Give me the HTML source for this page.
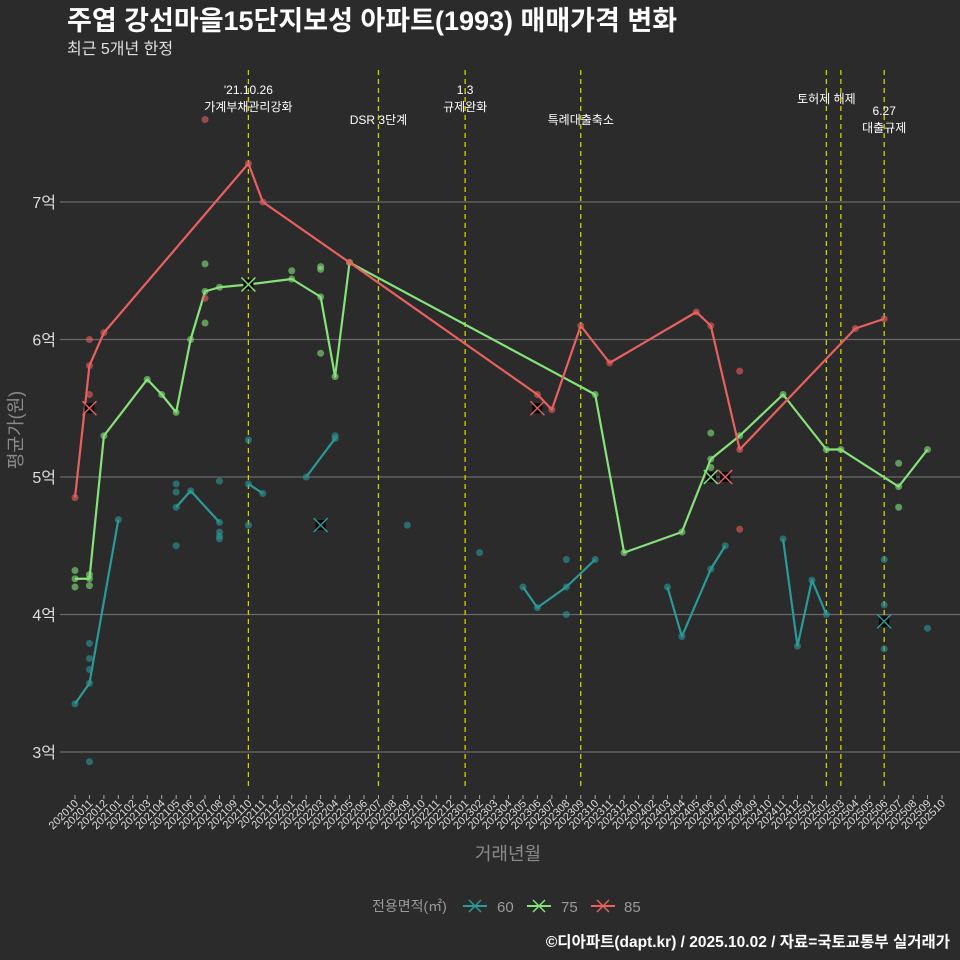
<!DOCTYPE html>
<html><head><meta charset="utf-8"><style>
body{margin:0;background:#2b2b2b;}
svg{display:block;font-family:"Liberation Sans","Noto Sans CJK KR",sans-serif;}
</style></head><body>
<svg id="chart" width="960" height="960" viewBox="0 0 960 960">
<rect width="960" height="960" fill="#2b2b2b"/>
<text x="67" y="30" fill="#ffffff" font-size="27" font-weight="bold">주엽 강선마을15단지보성 아파트(1993) 매매가격 변화</text>
<text x="67" y="54" fill="#e0e0e0" font-size="16">최근 5개년 한정</text>
<g id="grid"></g>
<g id="vlines"></g>
<g id="series"></g>
<g id="xaxis"></g>
<text transform="translate(22,430) rotate(-90)" text-anchor="middle" fill="#8a8a8a" font-size="18">평균가(원)</text>
<text x="508" y="860" text-anchor="middle" fill="#8a8a8a" font-size="18">거래년월</text>
<g font-size="14">
<text x="372" y="911" fill="#9a9a9a">전용면적(㎡)</text>
<g><line x1="463" y1="906" x2="487" y2="906" stroke="#2a9a98" stroke-width="2"/><path d="M469 900L481 912M481 900L469 912" stroke="#2a9a98" stroke-width="1.5"/><text x="497" y="912" fill="#9a9a9a" font-size="15">60</text></g>
<g><line x1="527" y1="906" x2="551" y2="906" stroke="#86e27a" stroke-width="2"/><path d="M533 900L545 912M545 900L533 912" stroke="#86e27a" stroke-width="1.5"/><text x="561" y="912" fill="#9a9a9a" font-size="15">75</text></g>
<g><line x1="591" y1="906" x2="615" y2="906" stroke="#e8605f" stroke-width="2"/><path d="M597 900L609 912M609 900L597 912" stroke="#e8605f" stroke-width="1.5"/><text x="624" y="912" fill="#9a9a9a" font-size="15">85</text></g>
</g>
<text x="950" y="947" text-anchor="end" fill="#ffffff" font-size="15.5" font-weight="bold">©디아파트(dapt.kr) / 2025.10.02 / 자료=국토교통부 실거래가</text>
</svg>
<script>
const NS="http://www.w3.org/2000/svg";
const yTicks=[3,4,5,6,7];
const yTickLabels=["3억","4억","5억","6억","7억"];
const eventIdx=[12,21,27,35,52,53,56];
const eventLabels=[["'21.10.26","가계부채관리강화"],["DSR 3단계"],["1.3","규제완화"],["특례대출축소"],["토허제 해제"],[],["6.27","대출규제"]];
const eventLabelY=[94,124,94,124,103,0,115];
const line60=[[0,3.35],[1,3.50],[3,4.69],null,[7,4.78],[8,4.90],[10,4.67],null,[12,4.95],[13,4.88],null,[16,5.0],[18,5.28],null,[31,4.20],[32,4.05],[34,4.20],[36,4.40],null,[41,4.20],[42,3.84],[44,4.33],[45,4.50],null,[49,4.55],[50,3.77],[51,4.25],[52,4.0]];
const line75=[[0,4.26],[1,4.26],[2,5.30],[5,5.71],[6,5.60],[7,5.47],[8,6.0],[9,6.35],[10,6.38],[12,6.40],[15,6.44],[17,6.31],[18,5.73],[19,6.56],[36,5.60],[38,4.45],[42,4.60],[44,5.13],[46,5.30],[49,5.60],[52,5.20],[53,5.20],[57,4.93],[59,5.20]];
const line85=[[0,4.85],[1,5.81],[2,6.05],[12,7.28],[13,7.0],[19,6.56],[32,5.60],[33,5.49],[35,6.10],[37,5.83],[43,6.20],[44,6.10],[46,5.20],[54,6.08],[56,6.15]];
const pts60=[[1,3.79],[1,3.68],[1,3.60],[1,2.93],[7,4.95],[7,4.89],[7,4.50],[10,4.60],[10,4.57],[10,4.55],[10,4.97],[12,5.27],[12,4.65],[18,5.30],[23,4.65],[28,4.45],[34,4.40],[34,4.0],[56,4.40],[56,4.07],[56,3.75],[59,3.90]];
const pts75=[[0,4.32],[0,4.20],[1,4.29],[1,4.21],[9,6.55],[9,6.12],[15,6.50],[17,6.53],[17,6.51],[17,5.90],[44,5.32],[44,5.07],[57,5.10],[57,4.78]];
const pts85=[[9,7.6],[9,6.30],[1,6.0],[1,5.6],[46,5.77],[46,4.62]];
const x60=[[17,4.65],[56,3.95]];
const x75=[[12,6.40],[44,5.0]];
const x85=[[1,5.5],[32,5.5],[45,5.0]];
const months=[];for(let y=2020,m=10;months.length<61;){months.push(y+String(m).padStart(2,'0'));m++;if(m>12){m=1;y++;}}
const X=i=>75+14.45*i;
const Y=v=>202+(7-v)*137.5;
function el(t,a,p){const e=document.createElementNS(NS,t);for(const k in a)e.setAttribute(k,a[k]);p.appendChild(e);return e;}
const grid=document.getElementById('grid');
yTicks.forEach((v,i)=>{
 const l=el('line',{x1:60,x2:960,y1:Y(v),y2:Y(v),stroke:'#6a6a6a','stroke-width':1.2},grid);
 
 
 const t=el('text',{x:56,y:Y(v)+6,'text-anchor':'end',fill:'#dddddd','font-size':16},grid);
 t.textContent=yTickLabels[i];
 
 
});
const vl=document.getElementById('vlines');
eventIdx.forEach((i,k)=>{
 const l=el('line',{x1:X(i),x2:X(i),y1:70,y2:790,stroke:'#c8d400','stroke-width':1.3,'stroke-dasharray':'5 4'},vl);
 
 
 eventLabels[k].forEach((s,j)=>{
  const t=el('text',{x:X(i),y:eventLabelY[k]+j*17,'text-anchor':'middle',fill:'#ffffff','font-size':12},vl);
  t.textContent=s;
  
  
 });
});
const xa=document.getElementById('xaxis');
months.forEach((m,i)=>{
 el('line',{x1:X(i),x2:X(i),y1:795,y2:799,stroke:'#aaaaaa'},xa);
 const t=el('text',{transform:`translate(${X(i)+4},804) rotate(-45)`,'text-anchor':'end',fill:'#dddddd','font-size':11},xa);
 t.textContent=m;
 
 
});
const sg=document.getElementById('series');
function series(name,col,line,pts,xs){
 const g=el('g',{},sg);
 
 
 pts.forEach(p=>{const c=el('circle',{cx:X(p[0]),cy:Y(p[1]),r:3.5,fill:col,opacity:0.6},g);
  
  });
 let d='',start=true;
 line.forEach(p=>{if(!p){start=true;return;}d+=(start?'M':'L')+X(p[0])+' '+Y(p[1]);start=false;});
 const pa=el('path',{d:d,fill:'none',stroke:col,'stroke-width':2.2,'stroke-linejoin':'round'},g);
 
 
 line.forEach(p=>{if(!p)return;const c=el('circle',{cx:X(p[0]),cy:Y(p[1]),r:3.5,fill:col,opacity:0.6},g);
  
  });
 xs.forEach(p=>{const x=X(p[0]),y=Y(p[1]);
  const r=el('rect',{x:x-5,y:y-5,width:10,height:10,fill:'#000'},g);
  
  
  const m=el('path',{d:`M${x-7} ${y-7}L${x+7} ${y+7}M${x+7} ${y-7}L${x-7} ${y+7}`,stroke:col,'stroke-width':1.5},g);
  
  });
}
series('60','#2a9a98',line60,pts60,x60);
series('75','#86e27a',line75,pts75,x75);
series('85','#e8605f',line85,pts85,x85);
</script>
</body></html>
